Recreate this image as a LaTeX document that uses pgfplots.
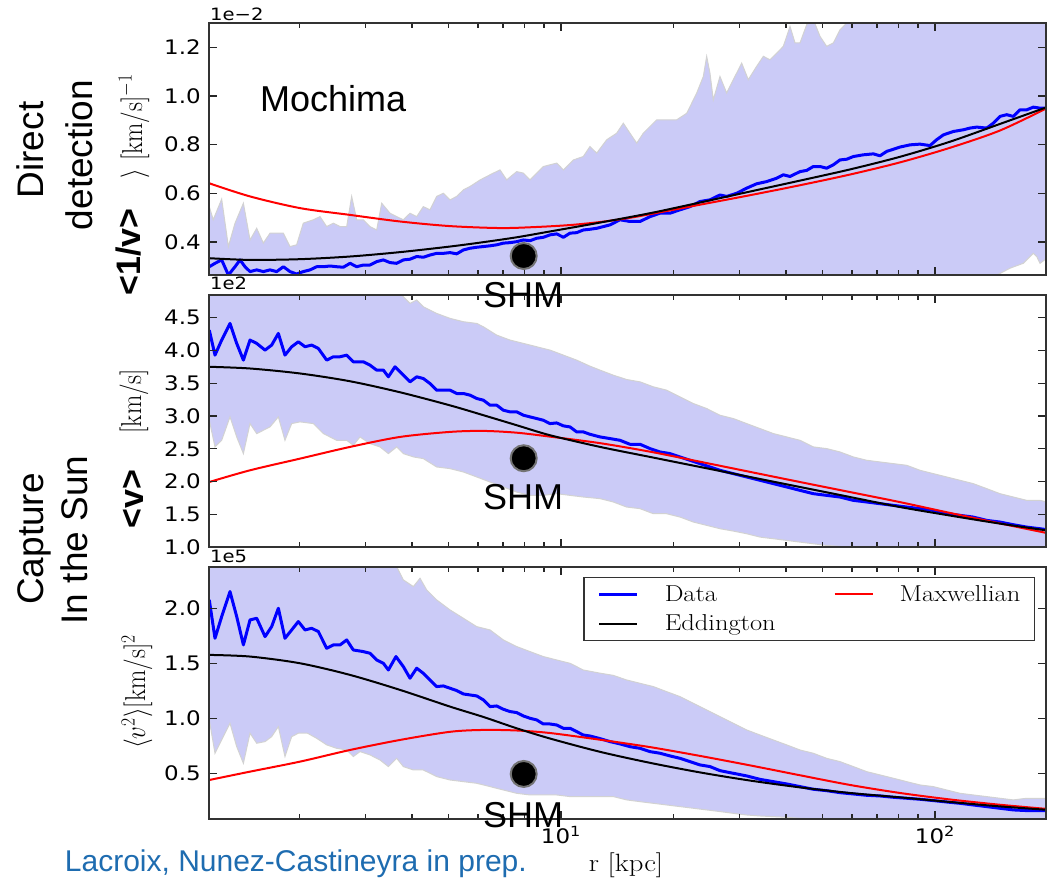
\documentclass[border=0pt]{standalone}
\usepackage{fix-cm}
\usepackage{fontspec}
\usepackage{graphicx}
\usepackage{pgfplots}
\pgfplotsset{compat=1.18}

\newfontfamily\arialf{Liberation Sans}
\newfontfamily\dejavu{DejaVu Sans}
\newcommand\ticks{\dejavu\fontsize{20}{20}\selectfont}
\newcommand\st[1]{\scalebox{1.15}[1]{#1}}

\definecolor{band}{RGB}{203,203,247}
\definecolor{capblue}{RGB}{30,108,176}

% shared look of the three stacked panels
\pgfplotsset{
  every axis/.append style={
    xmode=log, xmin=1.145, xmax=198.1,
    scale only axis, width=837pt, height=252pt,
    anchor=south west,
    axis on top,
    xtick={10,100},
    minor xtick={2,3,4,5,6,7,8,9,20,30,40,50,60,70,80,90},
    tick align=inside,
    major tick length=8pt, minor tick length=5pt,
    tick style={black!85, line width=1.4pt},
    axis line style={black!80, line width=1.5pt},
    yticklabel style={font=\ticks, inner sep=0pt, xshift=-8pt},
    xticklabel style={font=\ticks, inner sep=0pt, yshift=-7pt},
  },
  bandtop/.style={fill=band, draw=gray!35, line width=1pt, forget plot},
  bandbot/.style={fill=white, draw=gray!35, line width=1pt, forget plot},
  datal/.style={blue, line width=3pt, line join=round},
  maxl/.style={red, line width=2pt, smooth},
  eddl/.style={black, line width=2pt, smooth},
  shm/.style={only marks, mark=*, mark size=13pt,
    mark options={fill=black, draw=black!55, line width=2pt}, forget plot},
}

\begin{document}
\begin{tikzpicture}
\useasboundingbox (0,0) rectangle (1047pt,879pt);

% ---------------- <1/v> ----------------
\begin{axis}[at={(209pt,604pt)}, ymin=0.264, ymax=1.300,
  xticklabels={,,},
  ytick={0.4,0.6,0.8,1.0,1.2},
  yticklabels={\st{0.4},\st{0.6},\st{0.8},\st{1.0},\st{1.2}}]
% 1-sigma band: upper edge filled down, lower edge cleared below
\addplot[bandtop] coordinates {
(1.147,0.545) (1.175,0.491) (1.238,0.576) (1.290,0.381) (1.344,0.477) (1.415,0.559) (1.474,0.408) (1.536,0.456) (1.600,0.395) (1.667,0.436) (1.737,0.436) (1.810,0.436) (1.886,0.381) (1.964,0.388) (2.046,0.477) (2.177,0.491) (2.268,0.504) (2.363,0.463) (2.462,0.477) (2.566,0.463) (2.673,0.463) (2.756,0.587) (2.843,0.491) (2.961,0.491) (3.085,0.463) (3.215,0.449) (3.316,0.559) (3.490,0.518) (3.637,0.504) (3.788,0.491) (3.948,0.518) (4.113,0.504) (4.284,0.545) (4.463,0.532) (4.650,0.587) (4.846,0.600) (5.050,0.573) (5.262,0.587) (5.483,0.614) (5.713,0.628) (6.08,0.655) (6.330,0.669) (6.595,0.683) (6.871,0.696) (7.158,0.655) (7.612,0.689) (7.932,0.683) (8.264,0.655) (8.970,0.710) (9.739,0.724) (10.15,0.696) (10.79,0.737) (11.47,0.751) (11.95,0.792) (12.46,0.765) (13.25,0.820) (14.09,0.847) (14.68,0.888) (15.29,0.847) (15.94,0.806) (16.60,0.847) (18.03,0.902) (19.17,0.902) (20.39,0.902) (21.69,0.929) (23.06,1.012) (24.02,1.080) (24.52,1.163) (25.02,1.094) (25.54,0.984) (26.61,1.080) (27.73,1.012) (28.89,1.067) (30.42,1.135) (31.68,1.067) (33.36,1.122) (34.75,1.163) (36.21,1.149) (37.74,1.176) (39.31,1.204) (40.96,1.286) (42.25,1.218) (43.55,1.218) (45.39,1.293) (47.28,1.314) (49.27,1.245) (51.34,1.204) (53.48,1.218) (55.72,1.272) (58.07,1.300) (60.49,1.314) (65.69,1.40) (98.97,1.45) (199.3,1.50)} \closedcycle;
\addplot[bandbot] coordinates {
(1.147,0.2) (140,0.2) (146.2,0.263) (158.7,0.292) (172.2,0.312) (183.2,0.353) (187.1,0.340) (190.9,0.312) (199.3,0.333)} \closedcycle;
\addplot[datal] coordinates {
(1.147,0.298) (1.188,0.312) (1.238,0.326) (1.290,0.264) (1.344,0.298) (1.386,0.326) (1.429,0.298) (1.474,0.278) (1.536,0.285) (1.600,0.278) (1.667,0.285) (1.737,0.278) (1.810,0.298) (1.886,0.278) (1.964,0.268) (2.046,0.278) (2.133,0.285) (2.222,0.298) (2.315,0.298) (2.413,0.301) (2.513,0.298) (2.618,0.296) (2.729,0.312) (2.843,0.298) (2.961,0.305) (3.085,0.305) (3.215,0.319) (3.350,0.326) (3.490,0.315) (3.637,0.312) (3.788,0.326) (3.948,0.329) (4.113,0.340) (4.284,0.337) (4.463,0.346) (4.650,0.353) (4.846,0.353) (5.050,0.356) (5.262,0.351) (5.483,0.367) (5.713,0.374) (5.953,0.378) (6.201,0.381) (6.460,0.384) (6.730,0.388) (7.013,0.395) (7.306,0.397) (7.612,0.401) (7.932,0.408) (8.264,0.405) (8.609,0.415) (8.970,0.419) (9.346,0.429) (9.739,0.433) (10.15,0.419) (10.57,0.436) (11.01,0.438) (11.47,0.449) (11.95,0.452) (12.46,0.456) (13.52,0.470) (14.38,0.491) (15.29,0.484) (16.27,0.484) (17.30,0.504) (18.40,0.518) (19.56,0.518) (20.81,0.532) (22.13,0.545) (23.53,0.566) (25.02,0.573) (26.61,0.593) (27.73,0.587) (29.50,0.600) (31.37,0.621) (33.36,0.639) (35.48,0.648) (37.74,0.662) (39.31,0.676) (40.96,0.669) (43.55,0.689) (45.39,0.694) (47.28,0.710) (49.27,0.710) (51.34,0.703) (53.48,0.717) (55.72,0.737) (58.07,0.740) (60.49,0.751) (64.32,0.758) (68.42,0.762) (71.29,0.754) (74.29,0.772) (77.38,0.781) (80.64,0.790) (85.77,0.799) (91.19,0.802) (96.97,0.796) (101.0,0.820) (105.3,0.840) (112.0,0.854) (119.1,0.861) (124.1,0.868) (129.3,0.872) (137.5,0.868) (143.2,0.888) (149.2,0.916) (155.5,0.923) (162.0,0.916) (168.8,0.943) (175.9,0.943) (183.2,0.954) (190.9,0.950) (199.3,0.950)};
\addplot[maxl] coordinates {
(1.147,0.641) (1.474,0.587) (2.005,0.539) (2.729,0.511) (3.711,0.484) (5.050,0.465) (6.871,0.457) (8.5,0.461) (10.5,0.469) (12.6,0.481) (15.0,0.497) (17.30,0.514) (23.53,0.553) (32.01,0.592) (43.55,0.633) (59.26,0.677) (80.64,0.727) (109.7,0.787) (149.2,0.858) (199.3,0.950)};
\addplot[eddl] coordinates {
(1.147,0.333) (1.474,0.326) (2.005,0.329) (2.729,0.340) (3.711,0.358) (5.050,0.381) (6.201,0.399) (7.612,0.419) (9.346,0.443) (12.46,0.477) (17.30,0.518) (23.53,0.562) (32.01,0.607) (43.55,0.652) (59.26,0.698) (80.64,0.750) (109.7,0.812) (149.2,0.885) (199.3,0.954)};
\addplot[shm] coordinates {(7.95,0.342)};
\end{axis}

% ---------------- <v> ----------------
\begin{axis}[at={(209pt,332pt)}, ymin=1.0, ymax=4.847,
  xticklabels={,,},
  ytick={1.0,1.5,2.0,2.5,3.0,3.5,4.0,4.5},
  yticklabels={\st{1.0},\st{1.5},\st{2.0},\st{2.5},\st{3.0},\st{3.5},\st{4.0},\st{4.5}}]
\addplot[bandtop] coordinates {
(1.147,5.0) (3.6,5.0) (3.788,4.821) (3.948,4.719) (4.113,4.770) (4.284,4.668) (4.650,4.566) (5.050,4.490) (5.483,4.439) (5.953,4.413) (6.201,4.362) (6.730,4.235) (7.306,4.159) (7.932,4.108) (8.609,4.057) (9.346,4.006) (10.15,3.929) (11.01,3.853) (11.95,3.761) (12.72,3.700) (13.80,3.623) (14.98,3.557) (16.27,3.521) (17.66,3.445) (19.17,3.394) (20.81,3.292) (22.59,3.190) (24.52,3.114) (26.61,3.012) (28.89,2.961) (31.37,2.884) (34.05,2.808) (36.96,2.732) (40.14,2.680) (43.55,2.629) (47.28,2.528) (51.34,2.502) (55.72,2.451) (60.49,2.375) (65.69,2.324) (71.29,2.298) (77.38,2.273) (84.05,2.247) (91.19,2.171) (98.97,2.120) (107.5,2.069) (116.7,2.018) (126.6,1.967) (137.5,1.891) (149.2,1.814) (162.0,1.763) (175.9,1.712) (190.9,1.712) (199.3,1.687)} \closedcycle;
\addplot[bandbot] coordinates {
(1.147,2.935) (1.188,2.528) (1.238,2.629) (1.303,2.986) (1.358,2.680) (1.415,2.426) (1.474,2.884) (1.536,2.731) (1.600,2.782) (1.667,2.833) (1.755,2.986) (1.828,2.629) (1.905,2.884) (2.005,2.910) (2.177,2.884) (2.315,2.731) (2.513,2.629) (2.673,2.629) (2.784,2.553) (2.901,2.680) (3.085,2.578) (3.281,2.528) (3.455,2.426) (3.637,2.528) (3.788,2.426) (4.030,2.375) (4.284,2.349) (4.650,2.222) (5.050,2.196) (5.483,2.145) (5.953,2.069) (6.460,1.992) (7.013,1.916) (7.612,1.839) (8.264,1.788) (8.970,1.788) (9.739,1.814) (10.57,1.788) (11.47,1.763) (12.72,1.738) (13.80,1.687) (14.98,1.610) (16.27,1.585) (17.66,1.508) (19.17,1.508) (20.81,1.457) (22.59,1.381) (24.52,1.330) (26.61,1.279) (28.89,1.243) (31.37,1.202) (34.05,1.151) (36.96,1.126) (40.14,1.100) (43.55,1.075) (47.28,1.049) (51.34,1.024) (55.72,1.009) (60.49,0.988) (199.3,0.9)} \closedcycle;
\addplot[datal] coordinates {
(1.147,4.311) (1.188,3.929) (1.238,4.159) (1.303,4.413) (1.358,4.108) (1.415,3.853) (1.474,4.159) (1.536,4.108) (1.617,4.006) (1.684,4.082) (1.755,4.260) (1.828,3.929) (1.905,4.057) (1.985,4.133) (2.068,4.057) (2.154,4.082) (2.245,4.031) (2.363,3.853) (2.462,3.904) (2.566,3.904) (2.673,3.929) (2.784,3.827) (2.961,3.827) (3.085,3.776) (3.215,3.700) (3.350,3.700) (3.455,3.598) (3.599,3.751) (3.750,3.649) (3.948,3.521) (4.113,3.598) (4.284,3.572) (4.463,3.496) (4.650,3.394) (4.846,3.394) (5.050,3.394) (5.262,3.343) (5.483,3.343) (5.713,3.318) (5.953,3.267) (6.201,3.241) (6.460,3.165) (6.730,3.165) (7.013,3.088) (7.306,3.063) (7.612,3.063) (7.932,3.012) (8.264,2.986) (8.609,2.961) (8.970,2.935) (9.346,2.884) (9.739,2.894) (10.15,2.849) (10.57,2.833) (11.01,2.757) (11.47,2.757) (11.95,2.721) (12.72,2.680) (13.52,2.655) (14.38,2.629) (15.29,2.568) (16.27,2.568) (17.30,2.502) (18.40,2.451) (19.56,2.426) (20.81,2.375) (22.13,2.324) (23.53,2.273) (25.02,2.222) (26.61,2.171) (28.89,2.120) (31.37,2.069) (34.05,2.018) (36.96,1.967) (40.14,1.916) (43.55,1.865) (47.28,1.814) (51.34,1.788) (55.72,1.763) (60.49,1.712) (65.69,1.687) (71.29,1.661) (77.38,1.636) (84.05,1.610) (91.19,1.585) (98.97,1.559) (107.5,1.508) (116.7,1.483) (126.6,1.457) (137.5,1.406) (149.2,1.381) (162.0,1.340) (175.9,1.304) (190.9,1.279) (199.3,1.264)};
\addplot[maxl] coordinates {
(1.147,1.992) (1.474,2.171) (2.005,2.349) (2.729,2.528) (3.711,2.680) (5.050,2.757) (6.201,2.772) (7.612,2.745) (9.346,2.685) (12.72,2.585) (17.30,2.455) (23.53,2.302) (32.01,2.147) (43.55,1.992) (59.26,1.839) (80.64,1.685) (109.7,1.520) (149.2,1.360) (199.3,1.213)};
\addplot[eddl] coordinates {
(1.147,3.751) (1.474,3.725) (2.005,3.649) (2.729,3.530) (3.711,3.362) (5.050,3.162) (6.201,3.012) (7.612,2.859) (9.346,2.706) (12.72,2.528) (17.30,2.375) (23.53,2.222) (32.01,2.069) (43.55,1.916) (59.26,1.763) (80.64,1.610) (109.7,1.480) (149.2,1.357) (199.3,1.253)};
\addplot[shm] coordinates {(7.95,2.355)};
\end{axis}

% ---------------- <v^2> ----------------
\begin{axis}[at={(209pt,60pt)}, ymin=0.0845, ymax=2.375,
  ytick={0.5,1.0,1.5,2.0},
  yticklabels={\st{0.5},\st{1.0},\st{1.5},\st{2.0}},
  xticklabels={\st{10\textsuperscript{1}},\st{10\textsuperscript{2}}},
  legend columns=2,
  legend cell align=left,
  legend image code/.code={\draw[#1] (0pt,0pt) -- (38pt,0pt);},
  legend style={at={(0.987,0.962)}, anchor=north east, draw=black!80,
    line width=1.5pt, fill=white, font=\fontsize{23}{26}\selectfont,
    inner xsep=14pt, inner ysep=8pt, row sep=12pt,
    nodes={inner sep=0pt},
    /tikz/every odd column/.append style={column sep=26pt},
    /tikz/every even column/.append style={column sep=58pt}}]
\addplot[bandtop] coordinates {
(1.147,2.5) (3.55,2.5) (3.637,2.379) (3.788,2.258) (4.030,2.197) (4.198,2.273) (4.373,2.167) (4.650,2.076) (5.050,1.985) (5.483,1.909) (5.953,1.833) (6.460,1.803) (7.013,1.712) (7.612,1.652) (8.264,1.606) (8.970,1.561) (9.739,1.530) (10.57,1.500) (11.47,1.439) (12.72,1.41) (13.80,1.39) (14.98,1.348) (16.27,1.318) (17.66,1.288) (19.17,1.242) (20.81,1.197) (22.59,1.136) (24.52,1.076) (26.61,1.015) (28.89,0.955) (31.37,0.894) (34.05,0.848) (36.96,0.803) (40.14,0.758) (43.55,0.712) (47.28,0.682) (51.34,0.636) (55.72,0.606) (60.49,0.561) (65.69,0.515) (71.29,0.485) (77.38,0.455) (84.05,0.424) (91.19,0.394) (98.97,0.379) (107.5,0.348) (116.7,0.318) (126.6,0.303) (137.5,0.288) (149.2,0.273) (162.0,0.258) (175.9,0.273) (199.3,0.273)} \closedcycle;
\addplot[bandbot] coordinates {
(1.147,0.985) (1.188,0.682) (1.238,0.803) (1.303,0.955) (1.358,0.742) (1.415,0.591) (1.474,0.864) (1.536,0.773) (1.617,0.788) (1.684,0.833) (1.755,0.924) (1.828,0.652) (1.905,0.833) (1.985,0.864) (2.1,0.864) (2.222,0.818) (2.363,0.758) (2.513,0.727) (2.673,0.712) (2.784,0.652) (2.901,0.697) (3.085,0.667) (3.281,0.621) (3.455,0.561) (3.637,0.636) (3.788,0.561) (4.030,0.530) (4.284,0.530) (4.650,0.470) (5.050,0.439) (5.483,0.424) (5.953,0.409) (6.460,0.379) (7.013,0.348) (7.612,0.318) (8.264,0.303) (8.970,0.303) (9.739,0.303) (10.57,0.288) (11.47,0.288) (12.72,0.288) (13.80,0.288) (14.98,0.258) (16.27,0.242) (17.66,0.227) (19.17,0.212) (20.81,0.197) (22.59,0.182) (24.52,0.167) (26.61,0.152) (28.89,0.136) (31.37,0.121) (34.05,0.112) (36.96,0.106) (40.14,0.100) (43.55,0.091) (60,0.07) (199.3,0.05)} \closedcycle;
\addplot[datal] coordinates {
(1.147,2.076) (1.188,1.727) (1.238,1.924) (1.303,2.152) (1.358,1.924) (1.415,1.667) (1.474,1.894) (1.536,1.909) (1.617,1.742) (1.684,1.833) (1.755,2.000) (1.828,1.727) (1.905,1.803) (1.985,1.879) (2.068,1.803) (2.154,1.818) (2.245,1.788) (2.363,1.636) (2.462,1.667) (2.566,1.667) (2.673,1.712) (2.784,1.621) (2.961,1.606) (3.085,1.591) (3.215,1.530) (3.350,1.500) (3.455,1.439) (3.62,1.561) (3.788,1.470) (3.948,1.364) (4.113,1.455) (4.284,1.409) (4.463,1.348) (4.650,1.288) (4.846,1.294) (5.050,1.273) (5.262,1.252) (5.483,1.221) (5.713,1.212) (5.953,1.203) (6.201,1.167) (6.460,1.106) (6.730,1.112) (7.013,1.082) (7.306,1.061) (7.612,1.052) (7.932,1.021) (8.264,1.000) (8.609,0.985) (8.970,0.948) (9.346,0.948) (9.739,0.939) (10.15,0.909) (10.57,0.909) (11.01,0.879) (11.47,0.848) (11.95,0.839) (12.72,0.815) (13.52,0.788) (14.38,0.767) (15.29,0.742) (16.27,0.727) (17.30,0.697) (18.40,0.682) (19.56,0.658) (20.81,0.636) (22.13,0.606) (23.53,0.576) (25.02,0.561) (26.61,0.524) (28.89,0.500) (31.37,0.476) (34.05,0.445) (36.96,0.424) (40.14,0.403) (43.55,0.379) (47.28,0.355) (51.34,0.342) (55.72,0.324) (60.49,0.312) (65.69,0.300) (71.29,0.294) (77.38,0.282) (84.05,0.273) (91.19,0.264) (98.97,0.252) (107.5,0.239) (116.7,0.227) (126.6,0.212) (137.5,0.197) (149.2,0.182) (162.0,0.167) (175.9,0.161) (199.3,0.161)};
\addlegendentry{\st{Data}}
\addplot[maxl] coordinates {
(1.147,0.439) (1.474,0.515) (2.005,0.606) (2.729,0.712) (3.711,0.803) (5.050,0.877) (6.201,0.894) (7.612,0.889) (9.346,0.866) (12.72,0.805) (17.30,0.738) (23.53,0.658) (32.01,0.572) (43.55,0.482) (59.26,0.394) (80.64,0.321) (109.7,0.262) (149.2,0.214) (199.3,0.176)};
\addlegendentry{\st{Maxwellian}}
\addplot[eddl] coordinates {
(1.147,1.576) (1.474,1.561) (2.005,1.500) (2.729,1.394) (3.711,1.258) (5.050,1.106) (6.201,1.012) (7.612,0.909) (9.346,0.816) (12.72,0.695) (17.30,0.595) (23.53,0.508) (32.01,0.434) (43.55,0.372) (59.26,0.321) (80.64,0.281) (109.7,0.239) (149.2,0.199) (199.3,0.168)};
\addlegendentry{\st{Eddington}}
\addplot[shm] coordinates {(7.95,0.494)};
\end{axis}

% scale factors above each panel
\node[anchor=base west, font=\dejavu\fontsize{17}{17}\selectfont, inner sep=0pt] at (210pt,858pt) {\st{1e−2}};
\node[anchor=base west, font=\dejavu\fontsize{17}{17}\selectfont, inner sep=0pt] at (210pt,589pt) {\st{1e2}};
\node[anchor=base west, font=\dejavu\fontsize{17}{17}\selectfont, inner sep=0pt] at (210pt,316pt) {\st{1e5}};

% axis labels
\node[rotate=90, font=\fontsize{25}{25}\selectfont] at (134pt,730pt) {\scalebox{1}[1.15]{$\langle 1/v\rangle\ [\mathrm{km/s}]^{-1}$}};
\node[rotate=90, font=\fontsize{25}{25}\selectfont] at (134pt,458pt) {\scalebox{1}[1.15]{$\langle v\rangle\ [\mathrm{km/s}]$}};
\node[rotate=90, font=\fontsize{25}{25}\selectfont] at (137pt,187pt) {\scalebox{1}[1.15]{$\langle v^2\rangle[\mathrm{km/s}]^2$}};
\node[anchor=base, font=\fontsize{25}{25}\selectfont, inner sep=0pt] at (626pt,8pt) {\st{r [kpc]}};

% quantity tags
\fill[white] (108pt,586pt) rectangle (152pt,701pt);
\fill[white] (108pt,344pt) rectangle (152pt,443pt);
\node[rotate=90, anchor=base, inner sep=0pt, font=\arialf\bfseries\fontsize{34}{34}\selectfont] at (140pt,627pt) {<1/v>};
\node[rotate=90, anchor=base, inner sep=0pt, font=\arialf\bfseries\fontsize{34}{34}\selectfont] at (143pt,380pt) {<v>};

% section titles
\node[rotate=90, anchor=base, inner sep=0pt, font=\arialf\fontsize{37}{37}\selectfont] at (43pt,729pt) {Direct};
\node[rotate=90, anchor=base, inner sep=0pt, font=\arialf\fontsize{37}{37}\selectfont] at (92pt,724pt) {detection};
\node[rotate=90, anchor=base, inner sep=0pt, font=\arialf\fontsize{37}{37}\selectfont] at (43pt,340pt) {Capture};
\node[rotate=90, anchor=base, inner sep=0pt, font=\arialf\fontsize{37}{37}\selectfont] at (87pt,339pt) {In the Sun};

% annotations
\node[anchor=base west, inner sep=0pt, font=\arialf\fontsize{36}{36}\selectfont] at (260pt,767pt) {Mochima};
\node[anchor=base, inner sep=0pt, font=\arialf\fontsize{36}{36}\selectfont] at (523pt,571pt) {SHM};
\node[anchor=base, inner sep=0pt, font=\arialf\fontsize{36}{36}\selectfont] at (523pt,369pt) {SHM};
\node[anchor=base, inner sep=0pt, font=\arialf\fontsize{36}{36}\selectfont] at (523pt,52pt) {SHM};
\node[anchor=base east, inner sep=0pt, text=capblue, font=\arialf\fontsize{30}{30}\selectfont] at (527pt,8pt) {Lacroix, Nunez-Castineyra in prep.};
\end{tikzpicture}
\end{document}
